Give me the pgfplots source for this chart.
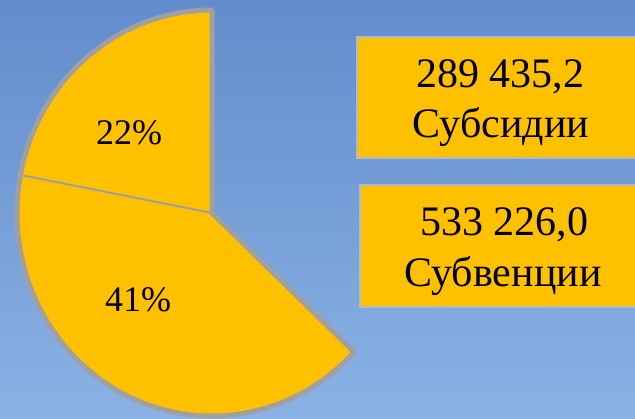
\documentclass[border=0pt]{standalone}
\usepackage{pgfplots}
\pgfplotsset{compat=1.18}
\usepackage{pgfplotstable}
\usepackage{fontspec}
\setmainfont{Liberation Serif}

\definecolor{pieGold}{RGB}{255,192,0}
\definecolor{pieEdge}{RGB}{160,160,160}
\definecolor{bgTop}{RGB}{98,140,204}
\definecolor{bgBot}{RGB}{138,178,228}
\definecolor{boxEdge}{RGB}{175,185,200}

% pie slices (percent)
\pgfplotstableread{
label value
22 22
41 41
}\pietable

\begin{document}
\begin{tikzpicture}
\pgfplotstablegetelem{0}{value}\of\pietable \let\vA\pgfplotsretval
\pgfplotstablegetelem{1}{value}\of\pietable \let\vB\pgfplotsretval
\pgfmathsetmacro{\aS}{90}
\pgfmathsetmacro{\aM}{90+3.6*\vA}
\pgfmathsetmacro{\aE}{\aM+3.6*\vB}
\pgfmathsetmacro{\sAx}{195*cos(\aS)}\pgfmathsetmacro{\sAy}{203*sin(\aS)}
\pgfmathsetmacro{\sMx}{195*cos(\aM)}\pgfmathsetmacro{\sMy}{203*sin(\aM)}
\pgfmathsetmacro{\sEx}{195*cos(\aE)}\pgfmathsetmacro{\sEy}{203*sin(\aE)}
\begin{axis}[
  anchor=south west, at={(0,0)},
  scale only axis, width=635pt, height=419pt,
  xmin=0, xmax=635, ymin=0, ymax=419,
  hide axis, clip=true,
]
% background
\shade[top color=bgTop, bottom color=bgBot] (axis cs:0,0) rectangle (axis cs:635,419);
% slices
\fill[pieGold] (axis cs:212,206) -- ++(\sAx pt,\sAy pt)
   arc[start angle=\aS, end angle=\aM, x radius=195pt, y radius=203pt] -- cycle;
\fill[pieGold] (axis cs:212,206) -- ++(\sMx pt,\sMy pt)
   arc[start angle=\aM, end angle=\aE, x radius=195pt, y radius=203pt] -- cycle;
% inner boundary
\draw[pieEdge, line width=2pt] (axis cs:212,206) -- ++(\sMx pt,\sMy pt);
% outer outline
\draw[pieEdge, line width=5pt, line join=round] (axis cs:212,206) -- ++(\sAx pt,\sAy pt)
   arc[start angle=\aS, end angle=\aE, x radius=195pt, y radius=203pt] -- cycle;
% percent labels
\node[anchor=base, font=\fontsize{36}{36}\selectfont] at (axis cs:129,274) {22\%};
\node[anchor=base, font=\fontsize{36}{36}\selectfont] at (axis cs:138,107) {41\%};
% boxes
\fill[pieGold, draw=boxEdge, line width=1.5pt] (axis cs:357,261) rectangle (axis cs:640,382);
\fill[pieGold, draw=boxEdge, line width=1.5pt] (axis cs:360,112) rectangle (axis cs:640,234);
\node[anchor=base, font=\fontsize{42}{42}\selectfont] at (axis cs:500,331) {289 435,2};
\node[anchor=base, font=\fontsize{42}{42}\selectfont] at (axis cs:501,281) {Субсидии};
\node[anchor=base, font=\fontsize{42}{42}\selectfont] at (axis cs:504,183) {533 226,0};
\node[anchor=base, font=\fontsize{42}{42}\selectfont] at (axis cs:503,132) {Субвенции};
\end{axis}
\end{tikzpicture}
\end{document}
